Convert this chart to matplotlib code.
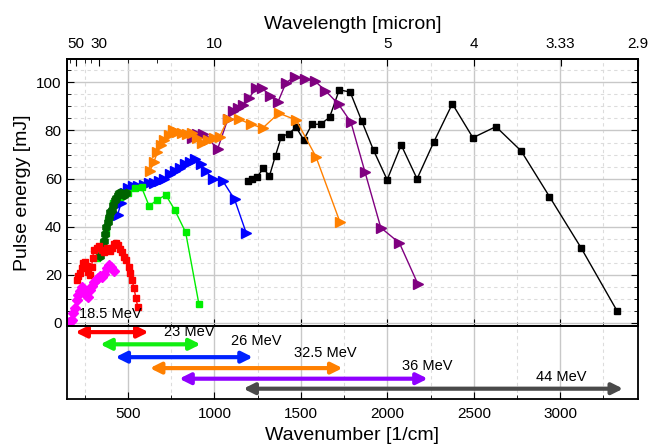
import numpy as np
import matplotlib
matplotlib.use('Agg')
import matplotlib.pyplot as plt
from matplotlib.ticker import MultipleLocator, FixedLocator

plt.rcParams['font.family'] = ['Liberation Sans', 'DejaVu Sans']

# ---- data (wavenumber [1/cm], pulse energy [mJ]) ----
e44_x = [1193, 1218, 1245, 1283, 1318, 1353, 1387, 1429, 1472, 1516, 1564, 1614, 1666, 1722, 1785,
         1851, 1920, 1999, 2080, 2172, 2270, 2376, 2495, 2628, 2774, 2938, 3120, 3328]
e44_y = [58.8, 59.7, 60.6, 64.2, 61.1, 69.6, 77.5, 78.6, 81.4, 76.1, 82.6, 82.6, 85.5, 96.9, 96.0,
         84.1, 71.8, 59.5, 74.0, 59.9, 75.4, 91.1, 77.0, 81.6, 71.5, 52.5, 31.3, 5.1]

e36_x = [870, 900, 932, 965, 1018, 1077, 1106, 1135, 1164, 1199, 1241, 1276, 1322, 1368, 1414,
         1466, 1522, 1579, 1641, 1718, 1789, 1870, 1962, 2070, 2177]
e36_y = [77.0, 78.5, 78.6, 76.5, 72.3, 84.7, 87.9, 89.3, 90.6, 93.4, 97.6, 97.6, 94.4, 92.0, 99.9,
         102.4, 101.5, 100.7, 96.6, 90.9, 83.5, 62.9, 39.6, 33.2, 16.1]

e32_x = [626, 650, 670, 690, 710, 735, 760, 785, 810, 840, 870, 900, 930, 960, 1000, 1030,
         1077, 1141, 1212, 1279, 1372, 1472, 1587, 1726]
e32_y = [63, 67, 71, 74, 76, 78, 80, 79.5, 79, 78.5, 79, 77, 75, 76, 77, 77.5,
         84.7, 84.7, 82.6, 81.0, 87.2, 84.4, 69.1, 41.9]

e26_x = [440, 460, 480, 500, 530, 560, 590, 620, 650, 680, 710, 740, 770, 800, 830, 860, 890,
         920, 950, 990, 1050, 1116, 1183]
e26_y = [45, 50, 54, 56, 57, 57, 57.5, 58, 58, 59, 60, 62, 63, 64.5, 66, 67, 68,
         66, 63, 60, 58.8, 51.4, 37.5]

e23_x = [321, 337, 356, 372, 385, 395, 414, 452, 500, 539, 578, 622, 668, 718, 770, 833, 910]
e23_y = [26.9, 30.1, 33.1, 37.3, 42.8, 45.6, 49.8, 52.5, 53.9, 56.0, 56.4, 48.6, 51.1, 53.2, 47.0, 37.7, 7.8]

e23b_x = [340, 350, 358, 366, 374, 382, 390, 398, 406, 414, 422, 430, 440, 450, 460, 475, 490]
e23b_y = [28, 31, 34, 37, 40, 42, 44, 46, 47, 49, 51, 52, 53, 54, 54, 53, 54]

e18_x = [203, 212, 222, 231, 241, 250, 260, 270, 279, 289, 295, 302, 318, 333, 347, 362, 377, 393,
         406, 416, 428, 439, 451, 464, 477, 491, 503, 512, 522, 535, 545, 556]
e18_y = [17.9, 19.3, 20.7, 22.7, 24.8, 25.5, 23.7, 21.3, 20.0, 23.4, 26.9, 30.4, 31.1, 32.0, 30.4,
         29.6, 31.1, 29.8, 31.1, 32.8, 33.4, 32.4, 30.6, 29.6, 27.6, 26.2, 23.2, 20.7, 17.9, 14.4,
         10.3, 6.8]

e18b_x = [160, 168, 174, 183, 193, 203, 212, 222, 231, 245, 256, 268, 279, 291, 302, 314, 325,
          337, 349, 360, 376, 391, 404, 418]
e18b_y = [0.3, 0.8, 1.2, 4.0, 6.1, 9.6, 11.6, 13.4, 14.8, 13.4, 11.6, 10.9, 13.7, 15.4, 16.8, 17.9,
          18.6, 19.3, 19.0, 20.4, 22.7, 24.1, 23.2, 21.7]

# tuning ranges per beam energy
ranges = [(195, 619), (339, 920), (427, 1222), (626, 1741), (796, 2234), (1167, 3364)]
range_labels = ['18.5 MeV', '23 MeV', '26 MeV', '32.5 MeV', '36 MeV', '44 MeV']
range_colors = ['#ff0000', '#11ee11', '#0022ff', '#ff8000', '#8f00ff', '#4a4a4a']

# top axis (wavelength in micron)
wl_labels = ['50', '30', '10', '5', '4', '3.33', '2.9']
wl_values = [50, 30, 10, 5, 4, 3.33, 2.9]

fig = plt.figure(figsize=(6.59, 4.47), dpi=100)
ax = fig.add_axes([0.1012, 0.2707, 0.8669, 0.5966])
ax2 = fig.add_axes([0.1012, 0.1074, 0.8669, 0.1633], sharex=ax)

xlim = (145, 3450)

ax.plot(e44_x, e44_y, '-s', color='black', lw=1, ms=5)
ax.plot(e36_x, e36_y, '->', color='#800080', lw=1, ms=6.5)
ax.plot(e32_x, e32_y, '->', color='#ff8000', lw=1, ms=6.5)
ax.plot(e26_x, e26_y, '->', color='#0000ff', lw=1, ms=6.5)
ax.plot(e23_x, e23_y, '-s', color='#00ee00', lw=1, ms=5)
ax.plot(e23b_x, e23b_y, '-h', color='#006400', lw=1, ms=6)
ax.plot(e18_x, e18_y, '-s', color='#ff0000', lw=1, ms=5)
ax.plot(e18b_x, e18b_y, '-D', color='#ff00ff', lw=1, ms=5)

ax.set_xlim(*xlim)
ax.set_ylim(-1.3, 109.6)
ax.yaxis.set_major_locator(MultipleLocator(20))
ax.yaxis.set_minor_locator(MultipleLocator(5))
ax.xaxis.set_major_locator(MultipleLocator(500))
ax.xaxis.set_minor_locator(MultipleLocator(250))
ax.grid(which='major', color='#c8c8c8', lw=1)
ax.grid(which='minor', color='#dcdcdc', lw=0.8, ls=(0, (3, 3)))
ax.set_axisbelow(True)
ax.tick_params(which='both', direction='in', right=True, labelbottom=False, bottom=False)
ax.tick_params(which='major', length=5, labelsize=11)
ax.tick_params(which='minor', length=3)
ax.set_ylabel('Pulse energy [mJ]', fontsize=14)

# top axis
top = ax.twiny()
top.set_xlim(*xlim)
top.xaxis.set_major_locator(FixedLocator([1e4 / w for w in wl_values]))
top.set_xticklabels(wl_labels)
top.xaxis.set_minor_locator(FixedLocator([1e4 / w for w in [70, 60, 40, 35, 20, 15, 6.67]]))
top.tick_params(which='both', direction='in', labelsize=11)
top.tick_params(which='major', length=5, pad=6)
top.tick_params(which='minor', length=3)
top.set_xlabel('Wavelength [micron]', fontsize=14, labelpad=6)

# lower panel with tuning ranges
for (x0, x1), c, yy in zip(ranges, range_colors, [0.084, 0.251, 0.427, 0.577, 0.722, 0.859]):
    ax2.annotate('', xy=(x1, yy), xytext=(x0, yy),
                 arrowprops=dict(arrowstyle='<|-|>', color=c, lw=3, mutation_scale=16,
                                 shrinkA=0, shrinkB=0))
ax.text(215, 3.7, range_labels[0], fontsize=10.5, ha='left', va='center')
for lab, xc, yy in zip(range_labels[1:], [852, 1239, 1641, 2232, 3005],
                       [0.088, 0.207, 0.37, 0.546, 0.692]):
    ax2.text(xc, yy, lab, fontsize=10.5, ha='center', va='center')

ax2.set_ylim(1, 0)
ax2.set_yticks([])
ax2.grid(which='major', axis='x', color='#c8c8c8', lw=1)
ax2.grid(which='minor', axis='x', color='#dcdcdc', lw=0.8, ls=(0, (3, 3)))
ax2.set_axisbelow(True)
ax2.tick_params(which='both', direction='in', labelsize=11)
ax2.tick_params(which='major', length=5, pad=6)
ax2.tick_params(which='minor', length=3)
ax2.set_xlabel('Wavenumber [1/cm]', fontsize=14, labelpad=4)

for a in (ax, ax2, top):
    for s in a.spines.values():
        s.set_linewidth(1.3)

fig.savefig('out.png', dpi=100)
